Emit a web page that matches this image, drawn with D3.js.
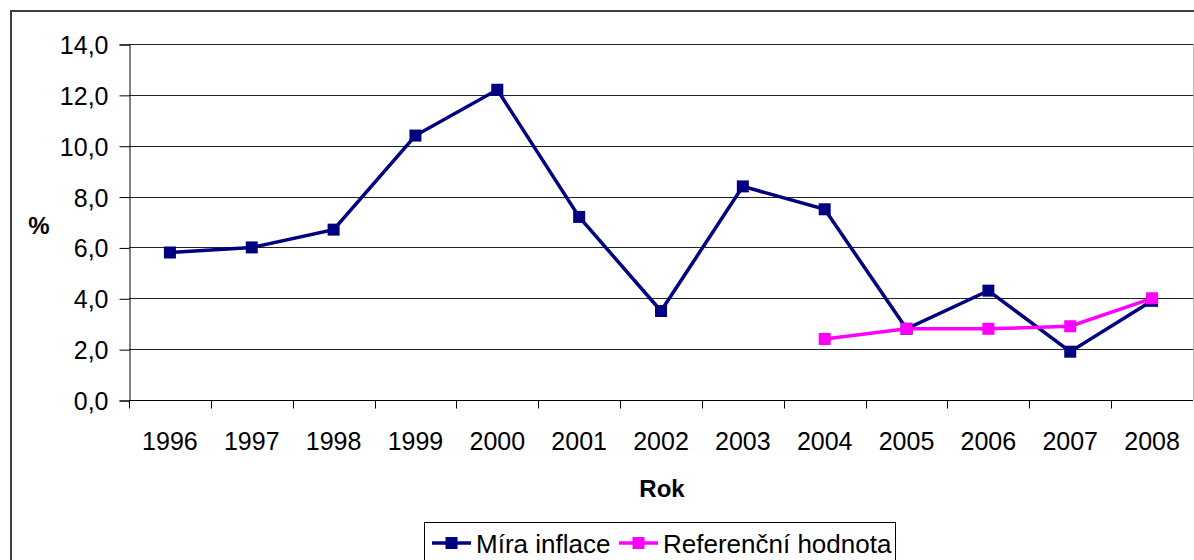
<!DOCTYPE html>
<html>
<head>
<meta charset="utf-8">
<script src="https://cdn.jsdelivr.net/npm/d3@7"></script>
<style>
  body { margin: 0; background: #fff; }
  svg text { font-family: "Liberation Sans", Arial, sans-serif; fill: #000; }
</style>
</head>
<body>
<div id="container"></div>
<script>
const years = ["1996","1997","1998","1999","2000","2001","2002","2003","2004","2005","2006","2007","2008"];
const inflace = [5.8, 6.0, 6.7, 10.4, 12.2, 7.2, 3.5, 8.4, 7.5, 2.8, 4.3, 1.9, 3.9];
const referencni = [null, null, null, null, null, null, null, null, 2.4, 2.8, 2.8, 2.9, 4.0];
const yTicks = [0, 2, 4, 6, 8, 10, 12, 14];

const w = 1194, h = 560;
const plotLeft = 129, plotRight = 1193, plotTop = 44, plotBottom = 400;

const svg = d3.select("#container").append("svg")
  .attr("width", w).attr("height", h);

// outer chart frame (runs off the picture on the right and bottom)
svg.append("rect")
  .attr("x", 11).attr("y", 11)
  .attr("width", w + 20).attr("height", h + 20)
  .attr("fill", "#fff").attr("stroke", "#404040").attr("stroke-width", 2);

const x = d3.scaleBand().domain(years).range([plotLeft, plotRight]);
const y = d3.scaleLinear().domain([0, 14]).range([plotBottom, plotTop]);

// grid
svg.append("g").selectAll("line")
  .data(yTicks.slice(1))
  .enter().append("line")
  .attr("x1", plotLeft).attr("x2", plotRight)
  .attr("y1", d => Math.round(y(d)) + 0.5).attr("y2", d => Math.round(y(d)) + 0.5)
  .attr("stroke", "#222").attr("stroke-width", 1);

svg.append("line")
  .attr("x1", plotRight + 0.5).attr("x2", plotRight + 0.5)
  .attr("y1", plotTop).attr("y2", plotBottom)
  .attr("stroke", "#bbb");

// y axis
const yAxis = d3.axisLeft(y).tickValues(yTicks)
  .tickFormat(d => d3.format(".1f")(d).replace(".", ","))
  .tickSize(10).tickPadding(11);
const gy = svg.append("g")
  .attr("transform", "translate(" + (plotLeft + 0.5) + ",0.5)")
  .call(yAxis);
gy.select(".domain").attr("stroke", "#000");
gy.selectAll(".tick line").attr("stroke", "#000");
gy.selectAll("text").style("font-size", "25px").attr("dy", "0.36em");

// x axis with ticks on band boundaries
const gx = svg.append("g")
  .attr("transform", "translate(0," + (plotBottom + 0.5) + ")");
gx.append("line")
  .attr("x1", plotLeft).attr("x2", plotRight)
  .attr("stroke", "#000");
gx.selectAll(".bt")
  .data(years)
  .enter().append("line")
  .attr("class", "bt")
  .attr("x1", d => Math.round(x(d)) + 0.5).attr("x2", d => Math.round(x(d)) + 0.5)
  .attr("y1", 0).attr("y2", 8)
  .attr("stroke", "#000");
gx.selectAll(".lbl")
  .data(years)
  .enter().append("text")
  .attr("class", "lbl")
  .attr("x", d => x(d) + x.bandwidth() / 2)
  .attr("y", 49)
  .attr("text-anchor", "middle")
  .style("font-size", "25px")
  .text(d => d);

// axis titles
svg.append("text")
  .attr("x", 39).attr("y", 234)
  .attr("text-anchor", "middle")
  .style("font-size", "24px").style("font-weight", "bold")
  .text("%");
svg.append("text")
  .attr("x", 662).attr("y", 497)
  .attr("text-anchor", "middle")
  .style("font-size", "24px").style("font-weight", "bold")
  .text("Rok");

// series
const cx = d => x(d) + x.bandwidth() / 2;
const series = [
  { name: "Míra inflace", values: inflace, color: "#000080" },
  { name: "Referenční hodnota", values: referencni, color: "#ff00ff" }
];

const line = d3.line()
  .defined(d => d.v != null)
  .x(d => cx(d.year))
  .y(d => y(d.v));

series.forEach(s => {
  const pts = years.map((yr, i) => ({ year: yr, v: s.values[i] }));
  svg.append("path")
    .datum(pts)
    .attr("d", line)
    .attr("fill", "none")
    .attr("stroke", s.color)
    .attr("stroke-width", 3.5)
    .attr("stroke-linejoin", "miter");
  svg.append("g").selectAll("rect")
    .data(pts.filter(d => d.v != null))
    .enter().append("rect")
    .attr("x", d => cx(d.year) - 6)
    .attr("y", d => y(d.v) - 6)
    .attr("width", 12).attr("height", 12)
    .attr("fill", s.color);
});

// legend
const lg = svg.append("g");
lg.append("rect")
  .attr("x", 424.5).attr("y", 522.5)
  .attr("width", 471).attr("height", 60)
  .attr("fill", "#fff").attr("stroke", "#000");
const legendItems = [
  { s: series[0], x0: 432, tx: 476 },
  { s: series[1], x0: 619, tx: 663 }
];
legendItems.forEach(it => {
  lg.append("line")
    .attr("x1", it.x0).attr("x2", it.x0 + 39)
    .attr("y1", 543).attr("y2", 543)
    .attr("stroke", it.s.color).attr("stroke-width", 3.5);
  lg.append("rect")
    .attr("x", it.x0 + 19.5 - 6).attr("y", 537)
    .attr("width", 12).attr("height", 12)
    .attr("fill", it.s.color);
  lg.append("text")
    .attr("x", it.tx).attr("y", 553)
    .style("font-size", "26px")
    .text(it.s.name);
});
</script>
</body>
</html>
